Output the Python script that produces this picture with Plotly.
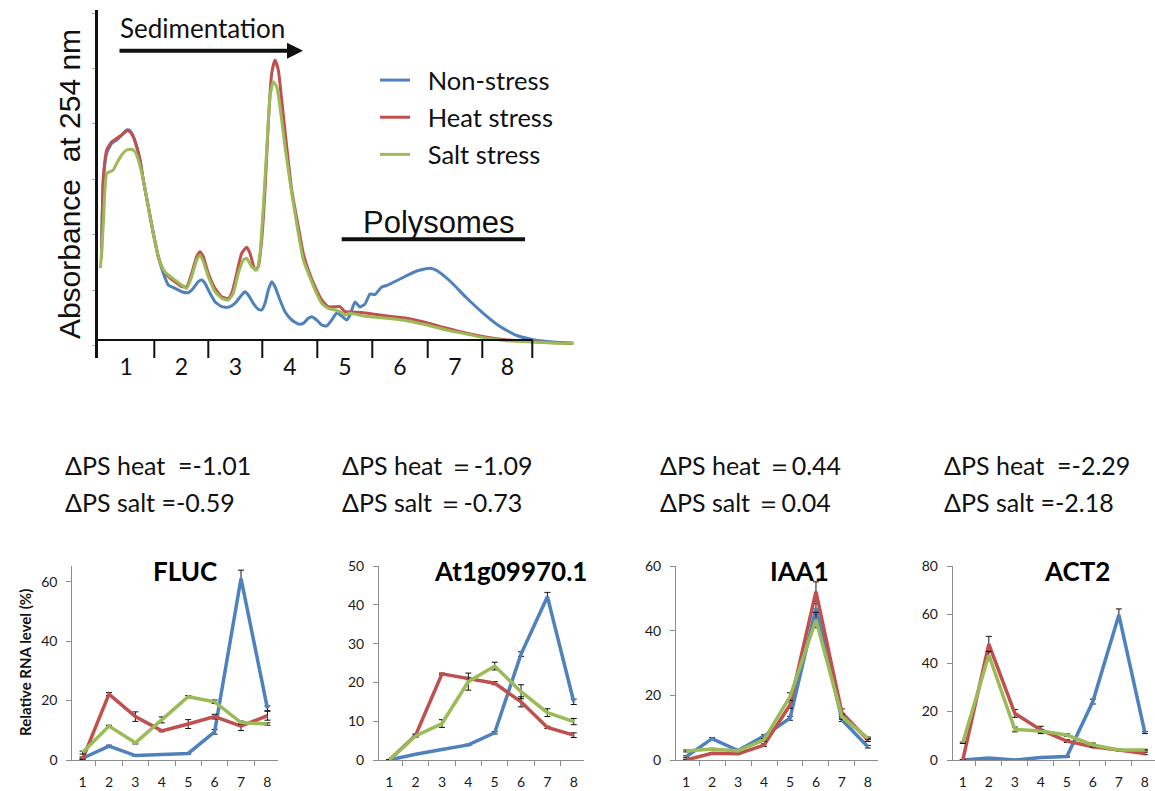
import plotly.graph_objects as go

W, H = 1155, 791
BLUE, RED, GREEN = "#4F81BD", "#C0504D", "#9BBB59"
TXT = "Lato"

# ---------------- Sucrose-gradient absorbance profiles ----------------
# position along the gradient (0.1 mm) and A254 (arbitrary units)
pos_non = [3.5, 5.3, 8.7, 13.7, 18.7, 23.7, 28.7, 32, 35.3, 38.7, 42, 45.3, 50.3, 55.3, 60.3,
           65.3, 70.3, 77, 83.7, 90.3, 95.3, 100.3, 103.7, 107, 112, 117, 123.7, 130.3, 137,
           143.7, 147, 150.3, 155.3, 160.3, 163.7, 167, 170.3, 173.7, 177, 182, 187, 193.7,
           200.3, 205.3, 210.3, 213.7, 218.7, 223.7, 228.7, 233.7, 238.7, 243.7, 248.7, 252,
           257, 262, 267, 272, 277, 283.7, 288.7, 302, 318.7, 332, 338.7, 352, 368.7, 385.3,
           402, 418.7, 435.3, 452, 475.3]
abs_non = [82, 160, 186.7, 196.7, 200, 205, 210, 209.3, 203.3, 193.3, 180, 160, 133.3, 106.7,
           83.3, 66.7, 55, 51.7, 48.3, 47.3, 51.7, 58.3, 60, 56.7, 46.7, 38.3, 33.3, 32.7, 36.7,
           45, 48.3, 45, 36.7, 30.7, 30, 36.7, 50, 58.3, 53.3, 40, 28.3, 20, 16, 16.7, 21.7,
           23.3, 20, 15, 14, 20, 27, 24, 20, 25, 38, 33, 36, 46, 45.5, 53, 54.5, 61, 69, 71.7,
           69.5, 59, 42, 26.7, 13.5, 4.5, 0.3, -1.7, -3.3]

pos_heat = [3.5, 5.3, 8.7, 13.7, 18.7, 23.7, 28.7, 32, 35.3, 38.7, 42, 45.3, 50.3, 55.3, 60.3,
            65.3, 70.3, 77, 83.7, 88.7, 93.7, 98.7, 102, 105.3, 110.3, 117, 123.7, 130.3, 133.7,
            138.7, 143.7, 148.7, 152, 157, 160.3, 163.7, 167, 170.3, 173.7, 177, 180.3, 183.7,
            188.7, 193.7, 200.3, 205.3, 210.3, 217, 223.7, 230.3, 237, 242, 247, 252, 265.3,
            288.7, 308.7, 328.7, 348.7, 368.7, 388.7, 408.7, 435.3, 455.3, 475.3]
abs_heat = [82, 160, 190, 198.3, 201.7, 205, 209.3, 208.3, 203.3, 193.3, 180, 160, 133.3, 106.7,
            83.3, 70, 63.3, 58.3, 53.3, 53.3, 66.7, 83.3, 88.3, 83.3, 66.7, 51.7, 43.3, 41.7,
            46.7, 66.7, 86.7, 92.7, 86.7, 70, 73.3, 100, 150, 216.7, 266.7, 280, 270, 240,
            193.3, 150, 113.3, 86.7, 70, 53.3, 40, 33.3, 33.3, 33.3, 28.3, 28, 27.3, 24, 21.7,
            17.3, 11.7, 6.7, 2.7, 0, -1.7, -2.7, -3.3]

pos_salt = [2.5, 5.3, 8.7, 12, 15.3, 18.7, 23.7, 28.7, 33.7, 37, 40.3, 45.3, 50.3, 55.3, 60.3,
            65.3, 70.3, 77, 83.7, 88.7, 93.7, 98.7, 102, 105.3, 110.3, 117, 123.7, 130.3, 135.3,
            140.3, 145.3, 148.7, 153.7, 158.7, 162, 165.3, 168.7, 172, 175.3, 178.7, 182, 187,
            193.7, 200.3, 205.3, 210.3, 217, 223.7, 230.3, 237, 242, 247, 252, 265.3, 288.7,
            308.7, 328.7, 348.7, 368.7, 388.7, 408.7, 435.3, 455.3, 475.3]
abs_salt = [72, 115, 166.7, 168.3, 170, 176.7, 185, 190, 190.7, 188.3, 180, 160, 133.3, 106.7,
            83.3, 70, 65, 60, 55, 51.7, 63.3, 80, 85, 78.3, 63.3, 48.3, 41.7, 40, 46.7, 66.7,
            80, 81.7, 73.3, 70, 86.7, 133.3, 190, 243.3, 258.3, 253.3, 233.3, 193.3, 146.7,
            106.7, 80, 66.7, 50, 36.7, 31.7, 30, 28.3, 25, 26.7, 24, 21.7, 19.3, 15, 10, 6, 1.7,
            -0.7, -2, -3, -3.3]

# fraction boundaries along the gradient (0.1 mm)
frac_bounds = [0, 56.3, 110.3, 164.3, 219.3, 274.3, 329.7, 384.3, 434.3]
frac_labels = ["1", "2", "3", "4", "5", "6", "7", "8"]
polysome_span = [243.7, 427.0]
sediment_span = [20.0, 205.0]

# ---------------- qRT-PCR distribution across fractions ----------------
fractions = ["1", "2", "3", "4", "5", "6", "7", "8"]
genes = ["FLUC", "At1g09970.1", "IAA1", "ACT2"]

fluc_non = [0.6, 4.7, 1.5, 1.8, 2.2, 9.5, 61.1, 17.4]
fluc_non_err = [0.4, 0.3, 0.2, 0.2, 0.2, 0.8, 2.8, 0.8]
fluc_heat = [0.3, 22.2, 14.6, 9.8, 12.1, 14.6, 11.4, 14.9]
fluc_heat_err = [0.3, 0.5, 1.6, 0.3, 1.5, 0.8, 1.5, 1.5]
fluc_salt = [2.5, 11.4, 5.8, 13.5, 21.3, 19.6, 12.6, 12.1]
fluc_salt_err = [0.5, 0.3, 0.4, 1.0, 0.4, 0.6, 0.5, 0.4]

at1g_non = [0.0, 1.5, 2.7, 3.9, 7.0, 27.3, 42.1, 15.0]
at1g_non_err = [0.0, 0.1, 0.1, 0.2, 0.3, 0.6, 1.1, 0.7]
at1g_heat = [0.0, 6.4, 22.2, 21.0, 19.8, 15.0, 8.4, 6.4]
at1g_heat_err = [0.0, 0.3, 0.2, 0.3, 0.4, 1.3, 0.3, 0.6]
at1g_salt = [0.0, 6.2, 9.4, 20.2, 24.2, 17.6, 12.2, 9.9]
at1g_salt_err = [0.0, 0.3, 1.0, 2.2, 1.0, 1.8, 1.0, 0.8]

iaa1_non = [1.0, 6.6, 2.9, 7.4, 12.9, 47.0, 12.4, 4.1]
iaa1_non_err = [0.3, 0.3, 0.2, 0.4, 0.6, 1.5, 0.5, 0.4]
iaa1_heat = [0.0, 2.1, 1.9, 4.6, 17.0, 52.1, 14.6, 6.2]
iaa1_heat_err = [0.2, 0.2, 0.2, 0.4, 1.0, 3.0, 1.2, 0.5]
iaa1_salt = [2.8, 3.4, 2.8, 6.2, 19.6, 43.3, 13.4, 6.7]
iaa1_salt_err = [0.3, 0.2, 0.2, 0.4, 1.2, 2.4, 0.8, 0.4]

act2_non = [0.0, 0.8, 0.0, 1.0, 1.4, 24.1, 59.8, 11.3]
act2_non_err = [0.0, 0.1, 0.0, 0.1, 0.2, 1.0, 2.5, 0.4]
act2_heat = [0.0, 47.8, 19.2, 12.4, 7.8, 5.5, 4.1, 2.7]
act2_heat_err = [0.0, 3.2, 1.6, 1.5, 0.6, 0.4, 0.3, 0.5]
act2_salt = [7.1, 43.3, 12.6, 12.0, 10.3, 6.2, 4.1, 4.1]
act2_salt_err = [0.3, 1.5, 1.0, 0.6, 0.5, 0.8, 0.3, 0.3]

y_max = [65.3, 50, 60, 80]
y_ticks = [[0, 20, 40, 60], [0, 10, 20, 30, 40, 50], [0, 20, 40, 60], [0, 20, 40, 60, 80]]

dps_heat = [-1.01, -1.09, 0.44, -2.29]
dps_salt = [-0.59, -0.73, 0.04, -2.18]
dps_eq = ["\u00a0=", "\uff1d", "\uff1d", "\u00a0="]
dps_eq2 = ["=", "\uff1d", "\uff1d", "="]

# ---------------- figure ----------------
fig = go.Figure()

profiles = [("Non-stress", pos_non, abs_non, BLUE),
            ("Heat stress", pos_heat, abs_heat, RED),
            ("Salt stress", pos_salt, abs_salt, GREEN)]
for name, xs, ys, col in profiles:
    fig.add_trace(go.Scatter(x=xs, y=ys, mode="lines", name="\u2002" + name, legendgroup=name,
                             line=dict(color=col, width=3, shape="spline", smoothing=0.5),
                             xaxis="x", yaxis="y", hoverinfo="skip"))

panel_data = [
    [(fluc_non, fluc_non_err), (fluc_heat, fluc_heat_err), (fluc_salt, fluc_salt_err)],
    [(at1g_non, at1g_non_err), (at1g_heat, at1g_heat_err), (at1g_salt, at1g_salt_err)],
    [(iaa1_non, iaa1_non_err), (iaa1_heat, iaa1_heat_err), (iaa1_salt, iaa1_salt_err)],
    [(act2_non, act2_non_err), (act2_heat, act2_heat_err), (act2_salt, act2_salt_err)],
]
for k, series in enumerate(panel_data):
    ax = k + 2
    for (vals, errs), col in zip(series, [BLUE, RED, GREEN]):
        fig.add_trace(go.Scatter(
            x=fractions, y=vals, mode="lines", showlegend=False,
            line=dict(color=col, width=3.5),
            error_y=dict(type="data", array=errs, visible=True, color="#111", thickness=1, width=3),
            xaxis=f"x{ax}", yaxis=f"y{ax}", hoverinfo="skip"))

# panel placement (pixels)
px_left = [72.3, 379, 676, 952.7]
px_right = [277.7, 584, 878, 1155]
py_top, py_bottom = 566, 760
title_x = [185, 510, 799, 1077]

layout = dict(
    width=W, height=H, margin=dict(l=0, r=0, t=0, b=0), template="none",
    paper_bgcolor="white", plot_bgcolor="rgba(0,0,0,0)",
    showlegend=True,
    legend=dict(x=375 / W, y=1 - 57 / H, xanchor="left", yanchor="top",
                font=dict(family=TXT, size=25.5, color="#111"), bgcolor="rgba(0,0,0,0)",
                tracegroupgap=1, itemwidth=30),
    xaxis=dict(domain=[98 / W, 575 / W], range=[0, 477], anchor="y",
               tickmode="array",
               tickvals=[(a + b) / 2 for a, b in zip(frac_bounds[:-1], frac_bounds[1:])],
               ticktext=frac_labels, ticks="", showline=False, showgrid=False, zeroline=False,
               tickfont=dict(family=TXT, size=23, color="#111"), ticklabelstandoff=-7,
               automargin=False),
    yaxis=dict(domain=[1 - 358 / H, 1 - 10 / H], range=[-18, 330], anchor="x",
               showline=True, linecolor="#111", linewidth=3, showgrid=False, zeroline=False,
               ticks="outside", tick0=50, dtick=55.4, ticklen=3, tickcolor="#aaa",
               showticklabels=False, automargin=False,
               title=dict(text="Absorbance  at 254 nm", standoff=3,
                          font=dict(family="Liberation Sans", size=30, color="#111"))),
)

for k in range(4):
    ax = k + 2
    layout[f"xaxis{ax}"] = dict(
        domain=[px_left[k] / W, px_right[k] / W], anchor=f"y{ax}", type="category",
        tickson="boundaries", ticks="outside", ticklen=5, tickcolor="#8c8c8c",
        showline=True, linecolor="#8c8c8c", linewidth=1, showgrid=False, zeroline=False,
        tickfont=dict(family=TXT, size=14, color="#1a1a1a"), ticklabelstandoff=9,
        automargin=False)
    layout[f"yaxis{ax}"] = dict(
        domain=[1 - py_bottom / H, 1 - py_top / H], anchor=f"x{ax}", range=[0, y_max[k]],
        tickmode="array", tickvals=y_ticks[k], ticks="outside", ticklen=5, tickcolor="#8c8c8c",
        showline=True, linecolor="#8c8c8c", linewidth=1, showgrid=False, zeroline=False,
        tickfont=dict(family=TXT, size=14, color="#1a1a1a"), ticklabelstandoff=6,
        automargin=False)

fig.update_layout(**layout)

# profile axis baseline and fraction dividers
fig.add_shape(type="line", xref="x", yref="y", x0=frac_bounds[0], x1=frac_bounds[-1], y0=0, y1=0,
              line=dict(color="#111", width=2))
for b in frac_bounds[1:]:
    fig.add_shape(type="line", xref="x", yref="y", x0=b, x1=b, y0=0, y1=-18,
                  line=dict(color="#111", width=2))
# polysome region bar
fig.add_shape(type="line", xref="x", yref="y", x0=polysome_span[0], x1=polysome_span[1],
              y0=100.7, y1=100.7, line=dict(color="#111", width=4))

annotations = [
    dict(x=sediment_span[1], y=289.3, ax=sediment_span[0], ay=289.3, xref="x", yref="y",
         axref="x", ayref="y", text="", showarrow=True, arrowhead=2, arrowsize=0.8,
         arrowwidth=4, arrowcolor="#111"),
    dict(x=sediment_span[0], y=312, xref="x", yref="y", text="Sedimentation", showarrow=False,
         xanchor="left", yanchor="middle", font=dict(family=TXT, size=26, color="#111")),
    dict(x=(polysome_span[0] + polysome_span[1]) / 2 + 6, y=118, xref="x", yref="y",
         text="Polysomes", showarrow=False, xanchor="center", yanchor="middle",
         font=dict(family="Liberation Sans", size=31, color="#111")),
    dict(x=25 / W, y=1 - 663 / H, xref="paper", yref="paper", text="Relative RNA level (%)",
         textangle=-90, showarrow=False, xanchor="center", yanchor="middle",
         font=dict(family=TXT, size=15, color="#111", weight="bold")),
]

dps_x = [63, 340, 658, 942]
for k in range(4):
    annotations.append(dict(x=dps_x[k] / W, y=1 - 465 / H, xref="paper", yref="paper",
                            text=f"ΔPS heat {dps_eq[k]}{dps_heat[k]:.2f}", showarrow=False,
                            xanchor="left", yanchor="middle",
                            font=dict(family=TXT, size=25, color="#111")))
    annotations.append(dict(x=dps_x[k] / W, y=1 - 502 / H, xref="paper", yref="paper",
                            text=f"ΔPS salt {dps_eq2[k]}{dps_salt[k]:.2f}", showarrow=False,
                            xanchor="left", yanchor="middle",
                            font=dict(family=TXT, size=25, color="#111")))
    annotations.append(dict(x=title_x[k] / W, y=1 - 571 / H, xref="paper", yref="paper",
                            text=genes[k], showarrow=False, xanchor="center", yanchor="middle",
                            font=dict(family=TXT, size=26, color="#000", weight="bold")))

fig.update_layout(annotations=annotations)
fig.write_html("out.html")
